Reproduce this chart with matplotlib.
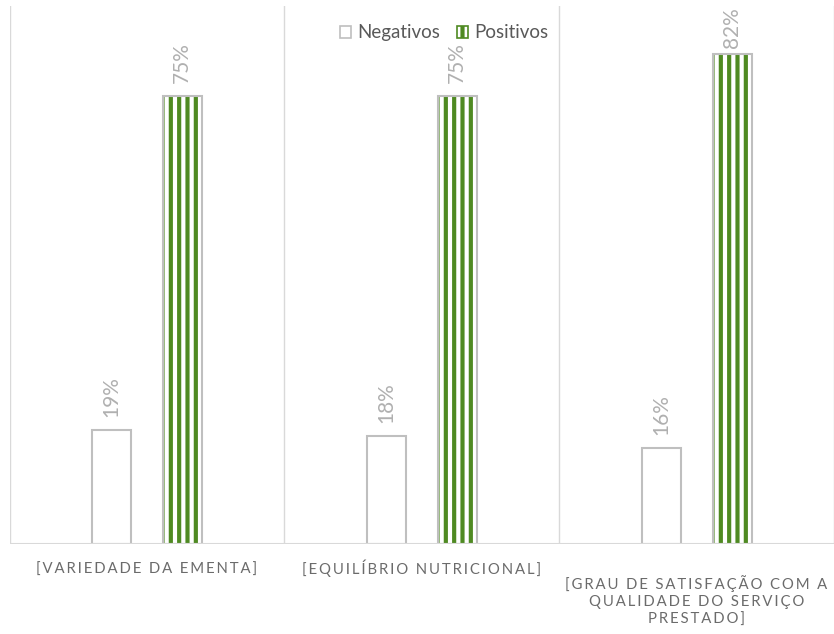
import matplotlib
matplotlib.use("Agg")
import matplotlib.pyplot as plt
from matplotlib.patches import Patch
import numpy as np

categories = ["[VARIEDADE DA EMENTA]",
              "[EQUILÍBRIO NUTRICIONAL]",
              "[GRAU DE SATISFAÇÃO COM A\nQUALIDADE DO SERVIÇO\nPRESTADO]"]
negativos = [19, 18, 16]
positivos = [75, 75, 82]
series_names = ["Negativos", "Positivos"]

plt.rcParams["font.family"] = ["Lato", "DejaVu Sans"]
plt.rcParams["hatch.linewidth"] = 3.0

TEXT = "#595959"
CAT_TEXT = "#6b6b6b"
LABEL = "#b0b0b0"
GRID = "#d9d9d9"
EDGE = "#bfbfbf"
GREEN = "#4f8a22"
YMAX = 90


def spaced(s):
    # widen the tracking of the category labels
    return "\n".join("\u2009".join(list(line)) for line in s.split("\n"))


fig = plt.figure(figsize=(8.34, 6.34), dpi=100)
ax = fig.add_axes([9.5 / 834, 90 / 634, 824.5 / 834, 538 / 634])
px_per_unit = 538 / YMAX

x = np.arange(len(categories))
w = 0.142
off = 0.129

neg = ax.bar(x - off, negativos, w, color="white", edgecolor=EDGE,
             linewidth=1.5, zorder=3)
ax.bar(x + off, positivos, w, color="white", edgecolor=GREEN,
       hatch="||", linewidth=0, zorder=3)
pos = ax.bar(x + off, positivos, w, fill=False, edgecolor=EDGE,
             linewidth=1.5, zorder=4)

# value labels; pulled closer to the bar when it nears the top of the plot
label_len_px = 36
for bars, vals in ((neg, negativos), (pos, positivos)):
    for b, v in zip(bars, vals):
        room_px = (YMAX - v) * px_per_unit - label_len_px - 6
        pad_px = max(3, min(13, room_px))
        ax.annotate(f"{v}%", (b.get_x() + b.get_width() / 2, v),
                    xytext=(0, pad_px * 0.72), textcoords="offset points",
                    rotation=90, ha="center", va="bottom",
                    fontsize=15, color=LABEL)

ax.set_xlim(-0.5, 2.5)
ax.set_ylim(0, YMAX)
for xv in (-0.5, 0.5, 1.5, 2.5):
    ax.axvline(xv, color=GRID, lw=1.0, zorder=1)
ax.axhline(0, color=GRID, lw=1.5, zorder=5)

for s in ax.spines.values():
    s.set_visible(False)
ax.set_yticks([])
ax.set_xticks([])

# category labels below the baseline (y = baseline of the last line)
label_y = [-0.0558, -0.0558, -0.1487]
for xi, cat, yy in zip(x, categories, label_y):
    ax.text(xi, yy, spaced(cat), transform=ax.get_xaxis_transform(),
            ha="center", va="baseline", multialignment="center",
            fontsize=10.7, color=CAT_TEXT, linespacing=1.32)

handles = [Patch(facecolor="white", edgecolor=EDGE, linewidth=1.2),
           Patch(facecolor="white", edgecolor=GREEN, hatch="||", linewidth=1.2)]
ax.legend(handles, series_names, loc="center",
          bbox_to_anchor=(0.527, 0.95), ncol=2, frameon=False,
          prop={"size": 13.5},
          handlelength=0.62, handleheight=0.62,
          handletextpad=0.3, columnspacing=0.9, labelcolor=TEXT)

fig.savefig("out.png", dpi=100)
